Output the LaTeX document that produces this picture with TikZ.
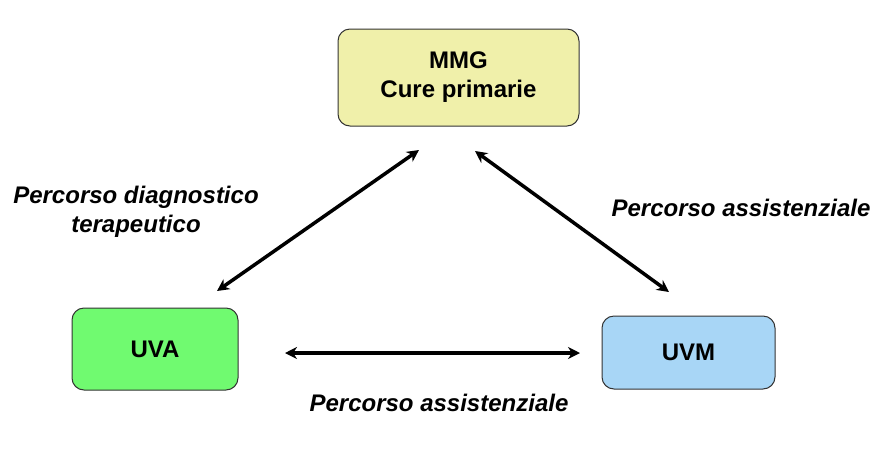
\documentclass[tikz,border=0pt]{standalone}
\usepackage{fontspec}
\setmainfont{Liberation Sans}
\usetikzlibrary{arrows.meta}
\definecolor{mmgfill}{RGB}{240,240,170}
\definecolor{uvafill}{RGB}{112,250,112}
\definecolor{uvmfill}{RGB}{168,214,246}
\tikzset{
  box/.style={draw=black!80, line width=1pt, rounded corners=12pt, font=\fontsize{24}{29}\selectfont\bfseries, align=center, inner sep=0pt},
  link/.style={line width=3.5pt, {Stealth[length=12pt,width=12pt]}-{Stealth[length=12pt,width=12pt]}},
  lbl/.style={font=\fontsize{24}{29}\selectfont\bfseries\itshape, align=center, inner sep=0pt}
}
\begin{document}
\begin{tikzpicture}[x=1pt,y=-1pt]
\useasboundingbox (0,0) rectangle (895,456);
\node[box, fill=mmgfill, minimum width=241pt, minimum height=97pt] (mmg) at (458.5,77.5) {MMG\\Cure primarie};
\node[box, fill=uvafill, minimum width=166pt, minimum height=82pt] (uva) at (155,349) {UVA};
\node[box, fill=uvmfill, minimum width=173pt, minimum height=73pt] (uvm) at (688.5,352.5) {UVM};
\coordinate (l1) at (217,291);
\coordinate (l2) at (419,150);
\coordinate (r1) at (475,151);
\coordinate (r2) at (669,292);
\coordinate (h1) at (285,353);
\coordinate (h2) at (580,353);
\draw[link] (l1) -- (l2);
\draw[link] (r1) -- (r2);
\draw[link] (h1) -- (h2);
\node[lbl] (ldiag) at (136,212) {Percorso diagnostico\\terapeutico};
\node[lbl] (lright) at (741,208) {Percorso assistenziale};
\node[lbl] (lbottom) at (439,403) {Percorso assistenziale};
\end{tikzpicture}
\end{document}
